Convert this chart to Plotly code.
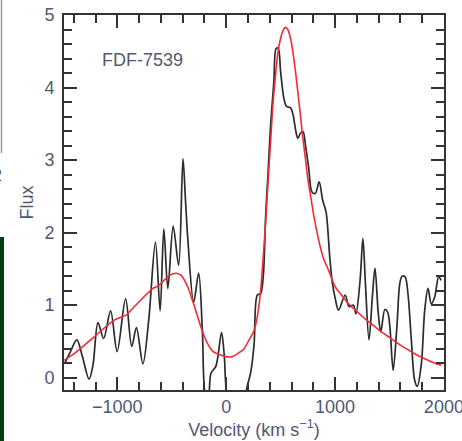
import plotly.graph_objects as go

# Observed spectrum (black) - velocity in km/s, flux
vel_obs = [-1479, -1434, -1372, -1324, -1260, -1224, -1178, -1126, -1062, -1002,
           -924, -868, -825, -765, -712, -650, -607, -573, -536, -487,
           -437, -397, -374, -352, -299, -253, -219, -192, -165, -140,
           -94, -43, -18, 5, 40, 100, 164, 195, 226, 256,
           286, 317, 341, 363, 384, 408, 438, 459, 478, 500,
           530, 554, 591, 615, 637, 658, 682, 706, 728, 758,
           788, 819, 854, 886, 918, 950, 974, 1002, 1032, 1093,
           1128, 1169, 1192, 1230, 1256, 1279, 1312, 1344, 1367, 1397,
           1420, 1458, 1484, 1504, 1534, 1569, 1595, 1616, 1644, 1671,
           1701, 1732, 1756, 1793, 1824, 1854, 1884, 1915, 1952, 1975]
flux_obs = [0.21, 0.35, 0.52, 0.31, -0.02, 0.17, 0.76, 0.54, 0.92, 0.36,
            1.09, 0.43, 0.69, 0.19, 0.79, 1.87, 0.92, 2.05, 1.23, 2.09,
            1.55, 3.02, 2.45, 1.90, 1.04, 1.44, 0.65, -0.24, -0.31, 0.06,
            0.16, 0.62, 0.31, -0.20, -0.32, -0.34, -0.28, -0.11, 0.08, 0.45,
            1.14, 1.16, 1.41, 2.24, 2.80, 3.48, 4.08, 4.54, 4.54, 4.22,
            3.85, 3.74, 3.72, 3.62, 3.42, 3.30, 3.37, 3.39, 3.21, 2.89,
            2.56, 2.54, 2.70, 2.45, 2.28, 1.69, 1.32, 1.09, 0.93, 1.14,
            0.98, 1.00, 0.88, 1.34, 1.92, 1.30, 0.52, 1.14, 1.51, 0.89,
            0.63, 0.94, 0.90, 0.70, 0.10, 0.72, 1.30, 1.40, 1.39, 1.14,
            0.52, -0.04, -0.12, 0.19, 0.93, 1.23, 1.02, 1.11, 1.39, 1.34]

# Model fit (red)
vel_fit = [-1489, -1397, -1215, -1032, -913, -849, -673, -621, -521, -459,
           -414, -353, -311, -262, -219, -171, -119, -64, -3, 55,
           103, 164, 210, 256, 288, 317, 338, 363, 384, 408,
           429, 454, 475, 500, 521, 545, 566, 591, 612, 637,
           658, 682, 703, 728, 749, 774, 804, 834, 863, 895,
           941, 1002, 1059, 1123, 1196, 1276, 1352, 1427, 1504, 1580,
           1653, 1732, 1808, 1884, 1975]
flux_fit = [0.24, 0.33, 0.56, 0.79, 0.87, 0.97, 1.23, 1.27, 1.41, 1.44,
            1.41, 1.25, 1.07, 0.84, 0.64, 0.47, 0.36, 0.32, 0.29, 0.29,
            0.33, 0.40, 0.52, 0.65, 0.86, 1.21, 1.62, 2.15, 2.68, 3.25,
            3.76, 4.18, 4.48, 4.68, 4.78, 4.83, 4.80, 4.68, 4.50, 4.22,
            3.94, 3.62, 3.32, 3.02, 2.75, 2.52, 2.24, 2.01, 1.81, 1.64,
            1.48, 1.25, 1.14, 1.02, 0.92, 0.81, 0.72, 0.63, 0.55, 0.47,
            0.40, 0.33, 0.27, 0.22, 0.17]

x_tick_vals = [-1000, 0, 1000, 2000]
x_tick_text = ["\u22121000", "0", "1000", "2000"]
y_tick_vals = [0, 1, 2, 3, 4, 5]
y_tick_text = ["0", "1", "2", "3", "4", "5"]

label_color = "#4f5873"
axis_color = "#333333"
font_family = "Liberation Sans, Arial, sans-serif"

fig = go.Figure()
fig.add_trace(go.Scatter(x=vel_obs, y=flux_obs, mode="lines",
                         line=dict(color="#2b2b2b", width=1.7, shape="spline", smoothing=0.9),
                         hoverinfo="skip", showlegend=False))
fig.add_trace(go.Scatter(x=vel_fit, y=flux_fit, mode="lines",
                         line=dict(color="#ee2d35", width=1.6, shape="spline", smoothing=0.8),
                         hoverinfo="skip", showlegend=False))

axis_common = dict(showline=True, linecolor=axis_color, linewidth=1.6, mirror="ticks",
                   ticks="inside", tickcolor=axis_color, tickwidth=1.5, ticklen=13,
                   showgrid=False, zeroline=False, ticklabeloverflow="allow",
                   tickfont=dict(family=font_family, size=18, color=label_color))

fig.update_xaxes(range=[-1490, 2001], tickmode="array", tickvals=x_tick_vals,
                 ticktext=x_tick_text,
                 minor=dict(dtick=200, tick0=0, ticks="inside", ticklen=8,
                            tickwidth=1.5, tickcolor=axis_color, showgrid=False),
                 title=dict(text="Velocity (km s<sup>\u22121</sup>)",
                            font=dict(family=font_family, size=18, color=label_color),
                            standoff=4),
                 automargin=False, **axis_common)
fig.update_yaxes(range=[-0.17, 5.0], tickmode="array", tickvals=y_tick_vals,
                 ticktext=y_tick_text,
                 minor=dict(dtick=0.2, tick0=0, ticks="inside", ticklen=8,
                            tickwidth=1.5, tickcolor=axis_color, showgrid=False),
                 title=dict(text="Flux",
                            font=dict(family=font_family, size=18, color=label_color),
                            standoff=6),
                 ticklabelstandoff=4,
                 automargin=False, **axis_common)

fig.add_annotation(text="FDF-7539", xref="paper", yref="paper",
                   x=(100 - 64) / 380, y=(390 - 60) / 375, xanchor="left", yanchor="middle",
                   showarrow=False,
                   font=dict(family=font_family, size=18, color=label_color))

# Cropping remnants at the far-left edge of the picture
fig.add_shape(type="rect", xref="paper", yref="paper",
              x0=-64 / 380, x1=(4 - 64) / 380, y0=(390 - 445) / 375, y1=(390 - 237) / 375,
              fillcolor="#063d0c", line=dict(width=0), layer="above")
fig.add_shape(type="line", xref="paper", yref="paper",
              x0=(1.5 - 64) / 380, x1=(1.5 - 64) / 380, y0=(390 + 2) / 375, y1=(390 - 153) / 375,
              line=dict(color="#9a9a9a", width=1.5), layer="above")
fig.add_annotation(text="2", xref="paper", yref="paper",
                   x=(-3 - 64) / 380, y=(390 - 175) / 375, xanchor="center", yanchor="middle",
                   showarrow=False, font=dict(family=font_family, size=16, color="#555555"))

fig.update_layout(width=462, height=441,
                  margin=dict(l=64, r=18, t=15, b=51),
                  plot_bgcolor="white", paper_bgcolor="white",
                  font=dict(family=font_family))

fig.write_html("out.html")
